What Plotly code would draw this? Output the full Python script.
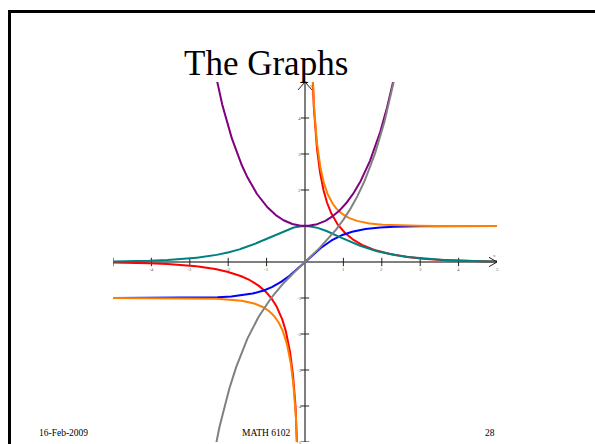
import numpy as np
import plotly.graph_objects as go

# Axis extent and tick values
x_min, x_max = -5, 5
y_min, y_max = -5, 5
x_ticks = [-4, -3, -2, -1, 1, 2, 3, 4, 5]
y_ticks = [-5, -4, -3, -2, -1, 1, 2, 3, 4]

# Hyperbolic functions and their colours (in drawing order)
func_names = ["csch", "tanh", "coth", "sech", "cosh", "sinh"]
func_colors = ["#ff0000", "#0000ff", "#ff8000", "#008080", "#800080", "#808080"]

W, H = 595, 444
# plot area in pixels
px_left, px_right = 113, 497
px_top, px_bottom = 82, 442

xs = np.linspace(x_min, x_max, 4001)
xs_neg = xs[xs < 0]
xs_pos = xs[xs > 0]


def evaluate(name, x):
    if name == "sinh":
        return np.sinh(x)
    if name == "cosh":
        return np.cosh(x)
    if name == "tanh":
        return np.tanh(x)
    if name == "sech":
        return 1.0 / np.cosh(x)
    if name == "coth":
        return 1.0 / np.tanh(x)
    if name == "csch":
        return 1.0 / np.sinh(x)


fig = go.Figure()

# axes drawn through the origin
axis_col = "#555555"
fig.add_trace(go.Scatter(x=[x_min, x_max], y=[0, 0], mode="lines",
                         line=dict(color=axis_col, width=1.5), hoverinfo="skip"))
fig.add_trace(go.Scatter(x=[0, 0], y=[y_min, y_max], mode="lines",
                         line=dict(color=axis_col, width=1.5), hoverinfo="skip"))
fig.add_trace(go.Scatter(x=[x_min] + x_ticks[:-1], y=[0] * len(x_ticks), mode="markers",
                         marker=dict(symbol="line-ns", size=6,
                                     line=dict(color="#222222", width=1)),
                         hoverinfo="skip"))
fig.add_trace(go.Scatter(x=[0] * len(y_ticks), y=y_ticks, mode="markers",
                         marker=dict(symbol="line-ew", size=6,
                                     line=dict(color="#222222", width=1)),
                         hoverinfo="skip"))

# curves
for name, col in zip(func_names, func_colors):
    if name in ("coth", "csch"):
        xx = np.concatenate([xs_neg, [np.nan], xs_pos])
    else:
        xx = xs
    with np.errstate(divide="ignore", invalid="ignore"):
        yy = evaluate(name, xx)
    yy = np.where(np.abs(yy) > 60, np.sign(yy) * 60, yy)
    fig.add_trace(go.Scatter(x=xx, y=yy, mode="lines", name=name,
                             line=dict(color=col, width=2), connectgaps=False,
                             hoverinfo="skip"))

# arrowheads at positive ends of the axes
ah = 0.13
fig.add_shape(type="path", xref="x", yref="y",
              path=f"M {x_max - ah*1.6},{ah} L {x_max},0 L {x_max - ah*1.6},{-ah}",
              line=dict(color="#222222", width=1))
fig.add_shape(type="path", xref="x", yref="y",
              path=f"M {-ah*1.4},{y_max - ah*1.7} L 0,{y_max} L {ah*1.4},{y_max - ah*1.7}",
              line=dict(color="#222222", width=1))

# tick labels
tick_font = dict(size=5, color="#666666", family="Liberation Serif")
for t in x_ticks:
    fig.add_annotation(x=t, y=0, text=str(t), showarrow=False, yshift=-7,
                       font=tick_font)
for t in y_ticks:
    fig.add_annotation(x=0, y=t, text=str(t), showarrow=False, xshift=-6,
                       font=tick_font)
fig.add_annotation(x=x_max, y=0, text="x", showarrow=False, yshift=7, xshift=-3,
                   font=tick_font)
fig.add_annotation(x=0, y=y_max, text="y", showarrow=False, xshift=6, yshift=-3,
                   font=tick_font)

# slide frame
fig.add_shape(type="rect", xref="paper", yref="paper",
              x0=9.5 / W, x1=1.2, y0=-0.2, y1=1 - 11.5 / H,
              line=dict(color="black", width=3))

# slide title and footer
fig.add_annotation(x=266 / W, y=1 - 63 / H, xref="paper", yref="paper",
                   xanchor="center", yanchor="middle",
                   text="The Graphs", showarrow=False,
                   font=dict(size=35, color="black", family="Liberation Serif"))
foot = dict(size=9.5, color="black", family="Liberation Serif")
footer_y = 1 - 433 / H
for cx, txt in [(63, "16-Feb-2009"), (266, "MATH 6102"), (490, "28")]:
    fig.add_annotation(x=cx / W, y=footer_y, xref="paper", yref="paper",
                       xanchor="center", yanchor="middle",
                       text=txt, showarrow=False, font=foot)

fig.update_layout(
    width=W, height=H,
    margin=dict(l=0, r=0, t=0, b=0),
    paper_bgcolor="white", plot_bgcolor="white",
    showlegend=False,
    xaxis=dict(range=[x_min, x_max], domain=[px_left / W, px_right / W],
               visible=False, fixedrange=True),
    yaxis=dict(range=[y_min, y_max], domain=[1 - px_bottom / H, 1 - px_top / H],
               visible=False, fixedrange=True),
)

fig.write_html("out.html")
